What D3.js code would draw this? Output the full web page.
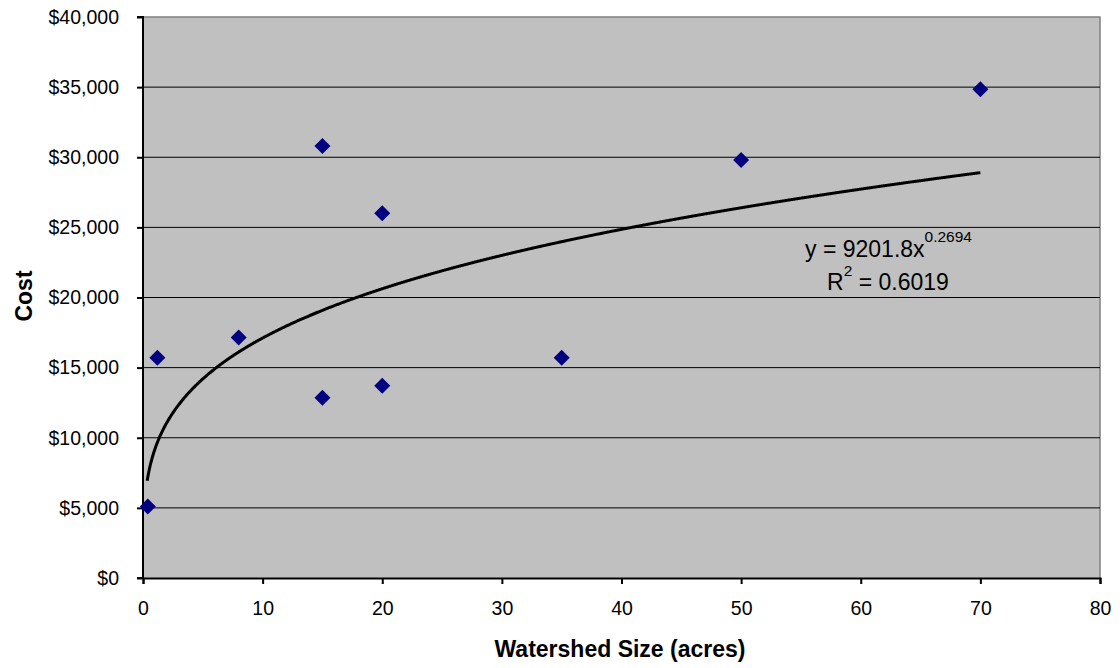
<!DOCTYPE html>
<html><head><meta charset="utf-8">
<script src="https://cdn.jsdelivr.net/npm/d3@7"></script>
<style>
body{margin:0;background:#fff;}
text{font-family:"Liberation Sans",Arial,sans-serif;}
</style></head>
<body><svg id="c" width="1120" height="668"></svg>
<script>
const sizes = [0.4, 1.2, 8, 15, 15, 20, 20, 35, 50, 70];
const costs = [5100, 15700, 17150, 30800, 12850, 26000, 13700, 15700, 29800, 34850];
const xTicks = [0,10,20,30,40,50,60,70,80];
const yTicks = [0,5000,10000,15000,20000,25000,30000,35000,40000];
const fitA = 9201.8, fitB = 0.2694, fitR2 = 0.6019;
const fitRange = [0.35, 70];

const svg = d3.select("#c");
const L=143, R=1100, T=17, B=578;
const x = d3.scaleLinear().domain([0,80]).range([L,R]);
const y = d3.scaleLinear().domain([0,40000]).range([B,T]);

svg.append("rect").attr("x",L).attr("y",T).attr("width",R-L).attr("height",B-T).attr("fill","#c0c0c0");
svg.append("path").attr("d",`M${L},${T}H${R}V${B}`).attr("fill","none").attr("stroke","#808080").attr("stroke-width",1.5);

svg.append("g").selectAll("line").data(yTicks.filter(d=>d>0&&d<40000)).join("line")
  .attr("x1",L).attr("x2",R).attr("y1",d=>y(d)).attr("y2",d=>y(d)).attr("stroke","#000").attr("stroke-width",1);

const yAx = svg.append("g").attr("transform",`translate(${L},0)`)
  .call(d3.axisLeft(y).tickValues(yTicks).tickSize(6).tickPadding(18).tickFormat(d=>"$"+d3.format(",")(d)));
const xAx = svg.append("g").attr("transform",`translate(0,${B})`)
  .call(d3.axisBottom(x).tickValues(xTicks).tickSize(6).tickPadding(17));
[yAx,xAx].forEach(g=>{
  g.attr("font-size",null).attr("font-family",null);
  g.select(".domain").attr("stroke","#000").attr("stroke-width",2);
  g.selectAll(".tick line").attr("stroke","#000").attr("stroke-width",2);
  g.selectAll("text").style("font-size","19.5px").attr("fill","#000").style("font-family","Liberation Sans, Arial, sans-serif");
});
yAx.select(".domain").attr("d",`M-6,${B}H0V${T}H-6`);

// trendline
const fx = d3.range(fitRange[0], fitRange[1]+0.001, 0.05);
svg.append("path").datum(fx)
  .attr("d", d3.line().x(d=>x(d)).y(d=>y(fitA*Math.pow(d,fitB))))
  .attr("fill","none").attr("stroke","#000").attr("stroke-width",3);

// markers
svg.append("g").selectAll("path").data(sizes.map((s,i)=>[s,costs[i]])).join("path")
  .attr("transform",d=>`translate(${x(d[0])},${y(d[1])})`)
  .attr("d","M0,-8L8,0L0,8L-8,0Z").attr("fill","#000080");

// equation
const eq = svg.append("text").attr("x",805).attr("y",257).style("font-size","23px").attr("fill","#000");
eq.append("tspan").text("y = "+fitA+"x");
eq.append("tspan").attr("dy",-15).style("font-size","15.5px").text(String(fitB));
const r2 = svg.append("text").attr("x",827).attr("y",290).style("font-size","23px").attr("fill","#000");
r2.append("tspan").text("R");
r2.append("tspan").attr("dy",-14).style("font-size","15.5px").text("2");
r2.append("tspan").attr("dy",14).text(" = "+fitR2);

svg.append("text").attr("x",620).attr("y",657).attr("text-anchor","middle").style("font-size","23px").attr("font-weight","bold").text("Watershed Size (acres)");
svg.append("text").attr("transform","translate(32,296) rotate(-90)").attr("text-anchor","middle").style("font-size","23px").attr("font-weight","bold").text("Cost");
</script></body></html>
